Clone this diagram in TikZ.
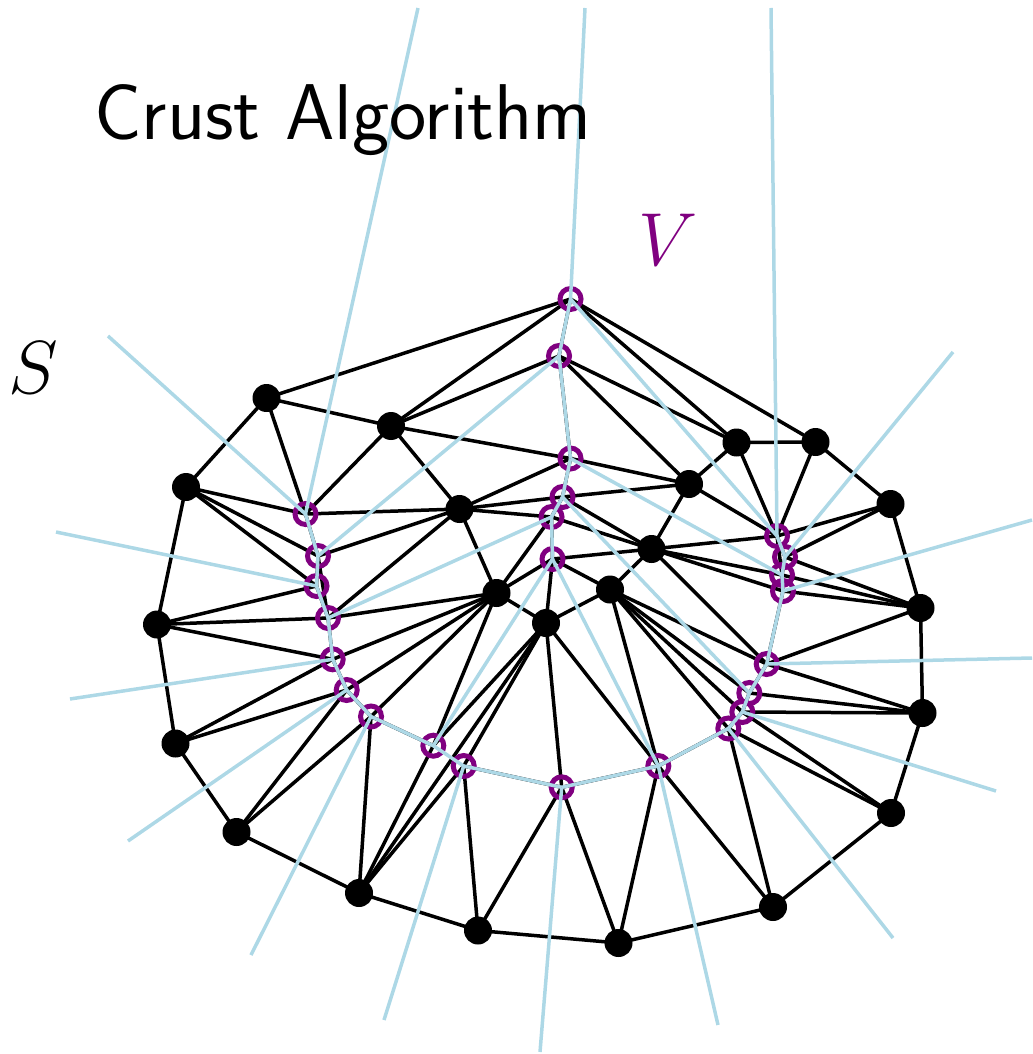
\documentclass[tikz,border=0pt]{standalone}
\usepackage{amsmath,amssymb}
\usepackage{graphicx}
\usepackage{tikz}
\usepackage{xcolor}
\definecolor{vorpurple}{RGB}{128,0,128}
\definecolor{vorblue}{RGB}{173,216,230}
\newcommand{\bigmath}[1]{\scalebox{1.72}{\Huge $#1$}}

\begin{document}
\begin{tikzpicture}[x=0.02cm,y=-0.02cm]
  \tikzset{sitevertex/.style={circle,fill=black,draw=none,inner sep=0pt,minimum size=0.56cm}}
  \tikzset{voronoivertex/.style={circle,draw=vorpurple,line width=0.1cm,inner sep=0pt,minimum size=0.42cm}}
  \tikzset{delaunayedge/.style={draw=black,line width=0.07cm}}
  \tikzset{voronoiedge/.style={draw=vorblue,line width=0.07cm}}
  \tikzset{biglabel/.style={inner sep=0pt,font=\fontsize{45}{54}\selectfont}}
  \useasboundingbox (0,0) rectangle (1032,1054);
  % sample points S
  \coordinate (a) at (266.5,398);
  \coordinate (b) at (391,426);
  \coordinate (c) at (186,487);
  \coordinate (d) at (459.5,509);
  \coordinate (e) at (736.5,442.5);
  \coordinate (f) at (815.5,442);
  \coordinate (g) at (689,484);
  \coordinate (h) at (890.5,504);
  \coordinate (i) at (651.5,549);
  \coordinate (j) at (496.5,593);
  \coordinate (k) at (610,589.5);
  \coordinate (l) at (546,623);
  \coordinate (m) at (157,624.5);
  \coordinate (n) at (920.5,608);
  \coordinate (o) at (175.5,743.5);
  \coordinate (p) at (922.5,713);
  \coordinate (q) at (236.5,832);
  \coordinate (r) at (891,813);
  \coordinate (s) at (359,893);
  \coordinate (t) at (478,930.5);
  \coordinate (u) at (618.5,943);
  \coordinate (w) at (773,907);
  % Voronoi vertices V
  \coordinate (v1) at (570.5,299);
  \coordinate (v2) at (559,356);
  \coordinate (v3) at (570.5,458.5);
  \coordinate (v4) at (562.5,497);
  \coordinate (v5) at (551.5,517);
  \coordinate (v6) at (552.5,559);
  \coordinate (v7) at (305.5,514);
  \coordinate (v8) at (318,556);
  \coordinate (v9) at (316.5,586);
  \coordinate (v10) at (328,618);
  \coordinate (v11) at (332.7,659.3);
  \coordinate (v12) at (346.7,690);
  \coordinate (v13) at (371,716.5);
  \coordinate (v14) at (433.3,745.7);
  \coordinate (v15) at (463.7,766);
  \coordinate (v16) at (561.7,787.3);
  \coordinate (v17) at (658.3,766);
  \coordinate (v18) at (728.3,728.5);
  \coordinate (v19) at (742.3,712);
  \coordinate (v20) at (749.3,693);
  \coordinate (v21) at (766.7,664);
  \coordinate (v22) at (777,536);
  \coordinate (v23) at (785,557);
  \coordinate (v24) at (782,575);
  \coordinate (v25) at (783,591);
  % far ends of the unbounded Voronoi edges
  \coordinate (r1) at (418,8);
  \coordinate (r2) at (108,336);
  \coordinate (r3) at (585,8);
  \coordinate (r4) at (771,8);
  \coordinate (r5) at (953,352);
  \coordinate (r6) at (56,532);
  \coordinate (r7) at (1032,520);
  \coordinate (r8) at (70,699);
  \coordinate (r9) at (1032,658);
  \coordinate (r10) at (128,841);
  \coordinate (r11) at (996,791);
  \coordinate (r12) at (251,955);
  \coordinate (r13) at (893,938);
  \coordinate (r14) at (384,1020);
  \coordinate (r15) at (540,1052);
  \coordinate (r16) at (718,1025);
  % Delaunay triangulation of S and V
  \foreach \p/\q in {a/v1,a/b,a/c,a/v7,b/v1,b/v2,b/v3,b/d,b/v7,c/v7,c/v8,c/v9,c/m,
    v7/d,v7/v8,v8/d,v8/v9,v8/v10,v9/v10,v9/m,d/v3,d/v4,d/v5,d/j,d/v10,
    v1/v2,v1/e,v1/f,v2/e,v2/g,v2/v3,v3/g,v3/v4,v4/g,v4/i,v4/v5,
    v5/i,v5/v6,v5/j,v6/i,v6/k,v6/l,v6/j,e/f,e/g,e/v22,f/v22,f/h,
    g/i,g/v22,h/v22,h/v23,h/n,i/k,i/v21,i/v25,i/v24,i/v22,
    v22/v24,v22/v23,v23/v24,v24/v25,v23/n,v24/n,v25/n,v25/v21,n/v21,n/p,
    k/l,k/v21,k/v20,k/v19,k/v18,k/v17,v21/v20,v21/p,v20/v19,v20/p,
    v19/v18,v19/p,v19/r,v18/v17,v18/r,v18/w,p/r,r/w,
    v17/w,v17/u,v17/v16,v17/l,w/u,u/v16,u/t,v16/t,v16/v15,v16/l,
    v15/t,v15/l,v15/s,t/s,s/l,s/v14,s/v13,s/q,v14/l,v14/j,v14/v13,
    v13/j,v13/q,v13/v12,v12/j,v12/q,v12/o,v12/v11,v11/j,v11/o,v11/m,v11/v10,
    v10/j,v10/m,m/o,o/q,j/l}
    \draw[delaunayedge] (\p) -- (\q);
  % V drawn as rings
  \foreach \v in {1,...,25}
    \node[voronoivertex] (V\v) at (v\v) {};
  % Voronoi diagram of S
  \foreach \p/\q in {v1/v2,v2/v3,v3/v4,v4/v5,v5/v6,v1/v22,v2/v8,v3/v24,v4/v20,
    v5/v10,v6/v14,v6/v17,v7/v8,v8/v9,v9/v10,v10/v11,v11/v12,v12/v13,v13/v14,
    v14/v15,v15/v16,v16/v17,v17/v18,v18/v19,v19/v20,v20/v21,v21/v25,v25/v24,
    v24/v23,v23/v22,
    v7/r1,v7/r2,v1/r3,v22/r4,v23/r5,v9/r6,v25/r7,v11/r8,v21/r9,v12/r10,
    v19/r11,v13/r12,v18/r13,v15/r14,v16/r15,v17/r16}
    \draw[voronoiedge] (\p) -- (\q);
  % S drawn as dots
  \foreach \p in {a,b,c,d,e,f,g,h,i,j,k,l,m,n,o,p,q,r,s,t,u,w}
    \node[sitevertex] (S\p) at (\p) {};
  % labels
  \node[biglabel,anchor=base west] (title) at (94,140) {\sffamily Crust Algorithm};
  \node[inner sep=0pt,text=vorpurple] (vlabel) at (668,240) {\bigmath{V}};
  \node[inner sep=0pt] (slabel) at (33,368) {\bigmath{S}};
\end{tikzpicture}
\end{document}
